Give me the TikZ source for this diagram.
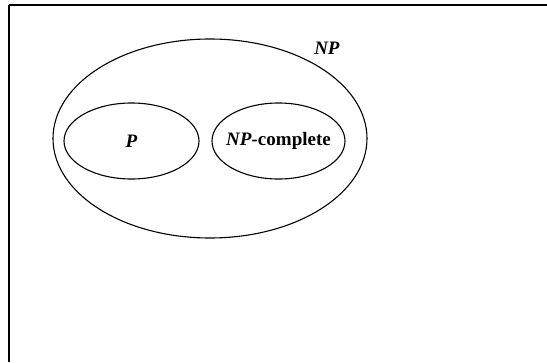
\documentclass[tikz,border=0pt]{standalone}
\usepackage{fontspec}
\setmainfont{Liberation Serif}
\usetikzlibrary{shapes.geometric}

\tikzset{
	cls/.style={ellipse, draw, line width=1.1pt, inner sep=0pt},
	lbl/.style={font=\fontsize{19}{23}\selectfont\bfseries}
}

\begin{document}
\begin{tikzpicture}[x=1pt,y=-1pt]
			\useasboundingbox (0,0) rectangle (547,362);
			% frame
			\coordinate (fa) at (9,362);
			\coordinate (fb) at (9,5);
			\coordinate (fc) at (547,5);
			\draw[line width=1.8pt] (fa)--(fb);
			\draw[line width=1.1pt] (fb)--(fc);
			% classes
			\node[cls, minimum width=314pt, minimum height=199pt] (np) at (210,138.5) {};
			\node[cls, minimum width=135pt, minimum height=76pt] (p) at (131.5,141) {};
			\node[cls, minimum width=133pt, minimum height=76pt] (npc) at (278.5,141) {};
			\node[lbl] (ptxt) at (p) {\textit{P}};
			\node[lbl] (npctxt) at (npc) {\textit{NP}-complete};
			\node[lbl] (nptxt) at (327,48) {\textit{NP}};
		\end{tikzpicture}
\end{document}
